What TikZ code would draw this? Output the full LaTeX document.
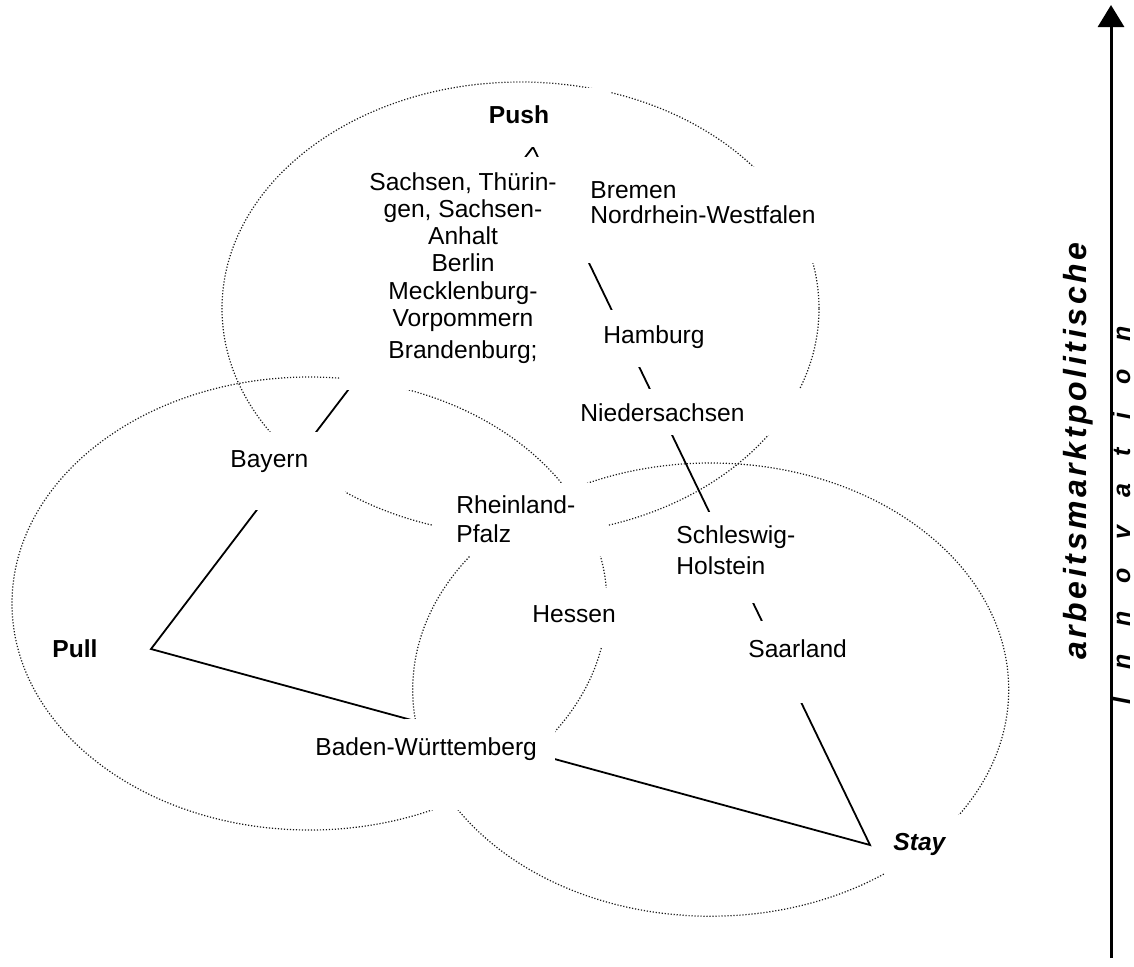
\documentclass[tikz,border=0pt]{standalone}
\usepackage{fontspec}
\setmainfont{Liberation Sans}
\usetikzlibrary{arrows.meta}
\makeatletter
\def\sprd#1#2{\def\sprd@k{#2}\sprd@a#1\@nil}
\def\sprd@a#1{\ifx#1\@nil\else#1\kern\sprd@k\expandafter\sprd@a\fi}
\makeatother
\begin{document}
\begin{tikzpicture}[x=0.5pt,y=-0.5pt,
  venn/.style={draw=black!90, line width=0.6pt, dash pattern=on 0.6pt off 0.9pt},
  conn/.style={draw=black, line width=0.9pt, line join=miter},
  mask/.style={fill=white, draw=none},
  lbl/.style={inner sep=0pt, font=\fontsize{12.3}{13.6}\selectfont},
  hd/.style={inner sep=0pt, font=\fontsize{12.3}{13.6}\selectfont\bfseries},
  hdi/.style={inner sep=0pt, font=\fontsize{12.3}{13.6}\selectfont\bfseries\itshape},
  axislbl/.style={rotate=90, anchor=base west, inner sep=0pt}
]
\useasboundingbox (0,0) rectangle (1134,966);
% sets
\draw[venn] (520.5,308.6) ellipse [x radius=298.5, y radius=226.6];
\draw[venn] (309.5,603.5) ellipse [x radius=297.5, y radius=226.5];
\draw[venn] (710.7,689.6) ellipse [x radius=298, y radius=226.6];
% triangle
\coordinate (apex) at (533,147);
\coordinate (pullc) at (151,649);
\coordinate (stayc) at (870,845);
\draw[conn] (apex) -- (pullc) -- (stayc) -- cycle;
% text box backgrounds
\fill[mask] (470,88) rectangle (610,147);
\fill[mask] (340,157) rectangle (580,390);
\fill[mask] (580,167) rectangle (830,263);
\fill[mask] (595,310) rectangle (715,367);
\fill[mask] (570,389) rectangle (805,435);
\fill[mask] (200,432) rectangle (345,510);
\fill[mask] (433,483) rectangle (608,556);
\fill[mask] (520,588) rectangle (612,647);
\fill[mask] (665,512) rectangle (805,603);
\fill[mask] (740,621) rectangle (855,703);
\fill[mask] (405,719) rectangle (555,810);
\fill[mask] (885,815) rectangle (975,895);
% labels
\node[hd, anchor=base] (push) at (519,123) {Push};
\node[lbl, anchor=north, align=center] (ost) at (463,172) {Sachsen, Thürin-\\gen, Sachsen-\\Anhalt\\Berlin\\Mecklenburg-\\Vorpommern\\[2.3pt]Brandenburg;};
\node[lbl, anchor=north west, align=left] (nrw) at (590,181) {Bremen\\[-1pt]Nordrhein-Westfalen};
\node[lbl, anchor=base west] (hh) at (603,343) {Hamburg};
\node[lbl, anchor=base west] (nds) at (580,421) {Niedersachsen};
\node[lbl, anchor=base west] (by) at (230,467) {Bayern};
\node[lbl, anchor=north west, align=left] (rp) at (456,495) {Rheinland-\\[0.9pt]Pfalz};
\node[lbl, anchor=north west, align=left] (sh) at (676,525) {Schleswig-\\[1.9pt]Holstein};
\node[lbl, anchor=base west] (he) at (532,622) {Hessen};
\node[lbl, anchor=base west] (sl) at (748,657) {Saarland};
\node[hd, anchor=base west] (pull) at (52,657) {Pull};
\node[lbl, anchor=base west] (bw) at (315,755) {Baden-Württemberg};
\node[hdi, anchor=base west] (stay) at (893,850) {Stay};
% axis
\coordinate (axb) at (1111,958);
\coordinate (axt) at (1111,5);
\draw[line width=1.5pt, -{Triangle[width=13pt,length=11pt]}] (axb) -- (axt);
\node[axislbl, font=\fontsize{16}{16}\selectfont\bfseries\itshape] (amp) at (1086,660) {\sprd{arbeitsmarktpolitische}{1.8pt}};
\node[axislbl, font=\fontsize{12.5}{12.5}\selectfont\bfseries\itshape] (inn) at (1130,705) {\sprd{Innovation}{14pt}};
\end{tikzpicture}
\end{document}
